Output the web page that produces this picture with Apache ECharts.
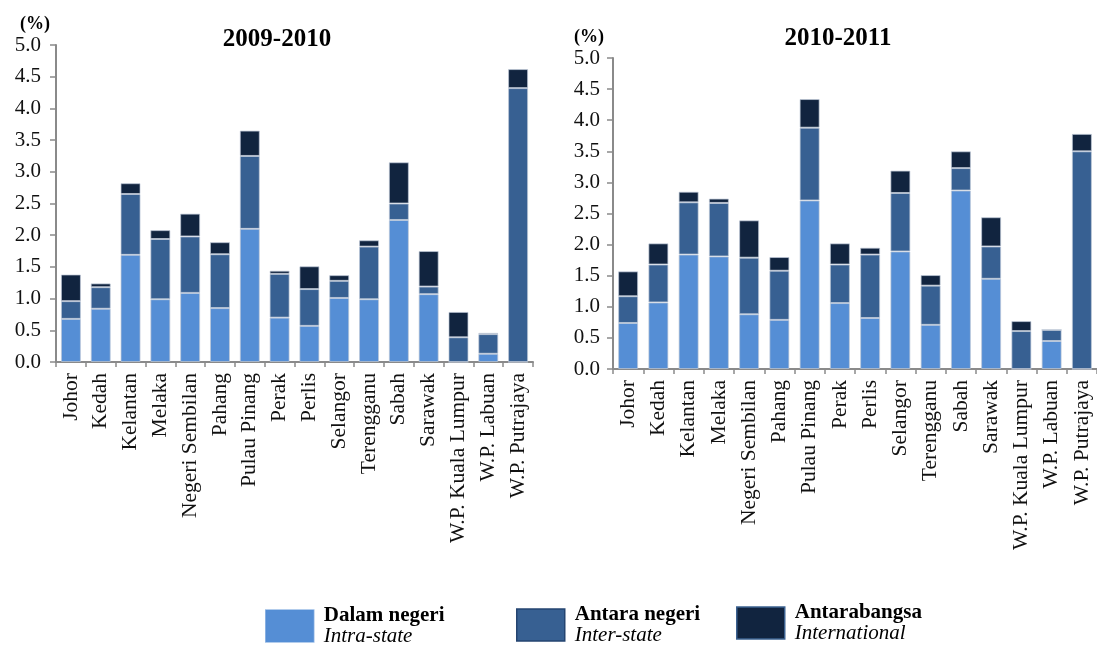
<!DOCTYPE html>
<html>
<head>
<meta charset="utf-8">
<script src="https://cdn.jsdelivr.net/npm/echarts@6/dist/echarts.min.js"></script>
<style>
  html, body { margin: 0; padding: 0; background: #fff; }
  #chart { width: 1097px; height: 648px; }
</style>
</head>
<body>
<div id="chart"></div>
<script>
var states = ['Johor', 'Kedah', 'Kelantan', 'Melaka', 'Negeri Sembilan', 'Pahang', 'Pulau Pinang', 'Perak',
  'Perlis', 'Selangor', 'Terengganu', 'Sabah', 'Sarawak', 'W.P. Kuala Lumpur', 'W.P. Labuan', 'W.P. Putrajaya']

// 2009-2010
var intra0910 = [0.68, 0.84, 1.69, 0.99, 1.09, 0.85, 2.10, 0.70, 0.57, 1.01, 0.99, 2.24, 1.07, 0, 0.13, 0]
var inter0910 = [0.28, 0.34, 0.96, 0.95, 0.89, 0.85, 1.15, 0.69, 0.58, 0.27, 0.83, 0.26, 0.12, 0.39, 0.31, 4.32]
var intl0910 = [0.42, 0.06, 0.17, 0.14, 0.36, 0.19, 0.40, 0.05, 0.36, 0.09, 0.10, 0.65, 0.56, 0.40, 0.02, 0.30]

// 2010-2011
var intra1011 = [0.74, 1.07, 1.84, 1.81, 0.88, 0.79, 2.71, 1.06, 0.82, 1.89, 0.71, 2.87, 1.45, 0, 0.45, 0]
var inter1011 = [0.43, 0.61, 0.84, 0.86, 0.91, 0.79, 1.17, 0.62, 1.02, 0.94, 0.63, 0.36, 0.52, 0.61, 0.18, 3.50]
var intl1011 = [0.40, 0.34, 0.17, 0.07, 0.60, 0.22, 0.46, 0.34, 0.11, 0.36, 0.17, 0.27, 0.47, 0.16, 0, 0.28]

var yTicks = [0, 0.5, 1, 1.5, 2, 2.5, 3, 3.5, 4, 4.5, 5]

var seriesNames = ['Dalam negeri', 'Antara negeri', 'Antarabangsa']
var seriesSub = { 'Dalam negeri': 'Intra-state', 'Antara negeri': 'Inter-state', 'Antarabangsa': 'International' }
var colors = ['#558ED5', '#376092', '#11243F']

var font = 'Liberation Serif, Times New Roman, serif'
var axisGray = '#8a8a8a'

var chart = echarts.init(document.getElementById('chart'))

function xAxisFor(idx) {
  return {
    type: 'category',
    gridIndex: idx,
    data: states,
    axisLine: { lineStyle: { color: axisGray, width: 2 } },
    axisTick: { show: true, length: 5, lineStyle: { color: axisGray, width: 1.5 } },
    axisLabel: {
      interval: 0,
      rotate: 90,
      margin: 11,
      color: '#111',
      fontFamily: font,
      fontSize: 21.5
    }
  }
}

function yAxisFor(idx, margin) {
  return {
    type: 'value',
    gridIndex: idx,
    min: yTicks[0],
    max: yTicks[yTicks.length - 1],
    interval: 0.5,
    splitLine: { show: false },
    axisLine: { show: true, lineStyle: { color: axisGray, width: 2 } },
    axisTick: { show: true, length: 6, lineStyle: { color: axisGray, width: 1.5 } },
    axisLabel: {
      margin: margin,
      color: '#111',
      fontFamily: font,
      fontSize: 21,
      formatter: function (v) { return v.toFixed(1) }
    }
  }
}

function barSeries(name, data, idx, color) {
  return {
    name: name,
    type: 'bar',
    stack: 'g' + idx,
    xAxisIndex: idx,
    yAxisIndex: idx,
    barWidth: 20,
    itemStyle: { color: color, borderColor: 'rgba(190,200,215,0.7)', borderWidth: 1 },
    data: data
  }
}

function legendFor(i, left, top, border) {
  return {
    left: left,
    top: top,
    padding: 0,
    itemWidth: 48,
    itemHeight: 32,
    selectedMode: false,
    data: [{ name: seriesNames[i], icon: 'rect', itemStyle: { color: colors[i], borderColor: border, borderWidth: 1.5 } }],
    formatter: function (name) {
      return '{b|' + name + '}\n{i|' + seriesSub[name] + '}'
    },
    textStyle: {
      padding: [0, 0, 0, 5],
      rich: {
        b: { fontFamily: font, fontWeight: 'bold', fontSize: 21, lineHeight: 21, color: '#000' },
        i: { fontFamily: font, fontStyle: 'italic', fontSize: 21, lineHeight: 21, color: '#000' }
      }
    }
  }
}

var option = {
  animation: false,
  backgroundColor: '#fff',
  title: [
    { text: '2009-2010', left: 272, top: 22, textAlign: 'center', textStyle: { fontFamily: font, fontWeight: 'bold', fontSize: 25, color: '#000' } },
    { text: '2010-2011', left: 833, top: 21, textAlign: 'center', textStyle: { fontFamily: font, fontWeight: 'bold', fontSize: 25, color: '#000' } },
    { text: '(%)', left: 20, top: 15, padding: 0, textStyle: { fontFamily: font, fontWeight: 'bold', fontSize: 18, color: '#000' } },
    { text: '(%)', left: 574, top: 28, padding: 0, textStyle: { fontFamily: font, fontWeight: 'bold', fontSize: 18, color: '#000' } }
  ],
  legend: [
    legendFor(0, 265, 605, 'rgba(85,142,213,0.6)'),
    legendFor(1, 516, 604, '#244470'),
    legendFor(2, 736, 602, '#3b6190')
  ],
  grid: [
    { left: 56, top: 45, width: 477, height: 317 },
    { left: 613, top: 58, width: 486, height: 311 }
  ],
  xAxis: [xAxisFor(0), xAxisFor(1)],
  yAxis: [yAxisFor(0, 15), yAxisFor(1, 13)],
  series: [
    barSeries(seriesNames[0], intra0910, 0, colors[0]),
    barSeries(seriesNames[1], inter0910, 0, colors[1]),
    barSeries(seriesNames[2], intl0910, 0, colors[2]),
    barSeries(seriesNames[0], intra1011, 1, colors[0]),
    barSeries(seriesNames[1], inter1011, 1, colors[1]),
    barSeries(seriesNames[2], intl1011, 1, colors[2])
  ]
}

chart.setOption(option)
</script>
</body>
</html>
